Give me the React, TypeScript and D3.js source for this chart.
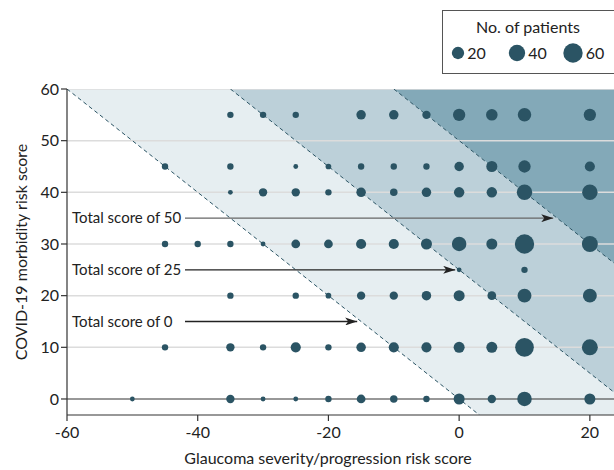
import React from "react";
import * as d3 from "d3";

// Risk score grid: glaucoma score (x), COVID-19 score (y), number of patients
const glaucomaScore = [
  -35, -30, -25, -15, -10, -5, 0, 5, 10, 20,
  -45, -35, -25, -20, -15, -10, -5, 0, 5, 10, 20,
  -35, -30, -25, -20, -15, -10, -5, 0, 5, 10, 20,
  -45, -40, -35, -30, -25, -20, -15, -10, -5, 0, 5, 10, 20,
  0, 10,
  -35, -25, -20, -15, -10, -5, 0, 5, 10, 20,
  -45, -35, -30, -25, -20, -15, -10, -5, 0, 5, 10, 20,
  -50, -35, -30, -25, -20, -15, -10, -5, 0, 5, 10, 20,
];
const covidScore = [
  55, 55, 55, 55, 55, 55, 55, 55, 55, 55,
  45, 45, 45, 45, 45, 45, 45, 45, 45, 45, 45,
  40, 40, 40, 40, 40, 40, 40, 40, 40, 40, 40,
  30, 30, 30, 30, 30, 30, 30, 30, 30, 30, 30, 30, 30,
  25, 25,
  20, 20, 20, 20, 20, 20, 20, 20, 20, 20,
  10, 10, 10, 10, 10, 10, 10, 10, 10, 10, 10, 10,
  0, 0, 0, 0, 0, 0, 0, 0, 0, 0, 0, 0,
];
const patients = [
  3, 3, 3, 10, 10, 7, 20, 17, 25, 20,
  3, 3, 1, 2, 3, 3, 3, 10, 15, 20, 12,
  1, 7, 7, 3, 10, 5, 10, 13, 13, 35, 35,
  3, 3, 3, 1, 8, 8, 12, 12, 15, 30, 15, 60, 38,
  1, 3,
  3, 3, 2, 7, 7, 10, 15, 8, 27, 27,
  3, 7, 3, 12, 3, 10, 12, 12, 15, 15, 55, 38,
  1, 7, 1, 1, 3, 8, 5, 3, 15, 7, 30, 15,
];

const xTicks = [-60, -40, -20, 0, 20];
const yTicks = [0, 10, 20, 30, 40, 50, 60];
const legendCounts = [20, 40, 60];

// Total-score thresholds (x + y) separating the shaded bands
const bandEdges = [0, 25, 50];
const bandColors = ["#e6eef1", "#bcd0d9", "#83a9b8"];

// Annotated total scores and the COVID-19 score at which each arrow sits
const annotationScores = [50, 25, 0];
const annotationY = [35, 25, 15];
const annotationLabels = ["Total score of 50", "Total score of 25", "Total score of 0"];
const annotationColors = ["#666", "#222", "#222"];

const W = 614;
const H = 470;
const FONT = "Lato, 'Noto Sans', sans-serif";
const DOT = "#2b5464";

export default function App() {
  const x = d3.scaleLinear().domain([-60, 24]).range([67, 616]);
  const y = d3.scaleLinear().domain([-3.1, 60]).range([415, 89]);
  const r = d3.scaleSqrt().domain([1, 60]).range([2.4, 9.7]);

  const [x0, x1] = x.domain();
  const [y0, y1] = y.domain();

  const band = (a: number, b: number) => {
    const pts: [number, number][] = [
      [a - y1, y1],
      [b - y1, y1],
      [b - y0, y0],
      [a - y0, y0],
    ];
    return pts.map(([px, py]) => `${x(px)},${y(py)}`).join(" ");
  };

  const points = glaucomaScore.map((gx, i) => ({
    gx,
    cy: covidScore[i],
    n: patients[i],
  }));

  return (
    <svg
      width={W}
      height={H}
      style={{ position: "absolute", left: 0, top: 0, background: "#fff" }}
      fontFamily={FONT}
    >
      <defs>
        <clipPath id="plotArea">
          <rect x={x(x0)} y={y(y1)} width={W - x(x0)} height={y(y0) - y(y1)} />
        </clipPath>
        <marker
          id="arrowHead"
          viewBox="0 0 12 8"
          refX="12"
          refY="4"
          markerWidth="12"
          markerHeight="8"
          markerUnits="userSpaceOnUse"
          orient="auto"
        >
          <path d="M0,0 L12,4 L0,8 L3,4 Z" fill="#222" />
        </marker>
      </defs>

      <g clipPath="url(#plotArea)">
        {bandEdges.map((edge, i) => (
          <polygon
            key={edge}
            points={band(edge, i + 1 < bandEdges.length ? bandEdges[i + 1] : 300)}
            fill={bandColors[i]}
          />
        ))}
        {yTicks
          .filter((t) => t !== 0)
          .map((t) => (
            <line key={t} x1={x(x0)} x2={W} y1={y(t)} y2={y(t)} stroke="#dcdcdc" strokeWidth={1.5} />
          ))}
        <line x1={x(x0)} x2={W} y1={y(0)} y2={y(0)} stroke="#333" strokeWidth={1.2} />
        {bandEdges.map((edge) => (
          <line
            key={edge}
            x1={x(edge - y1)}
            y1={y(y1)}
            x2={x(edge - y0)}
            y2={y(y0)}
            stroke={DOT}
            strokeWidth={1}
            strokeDasharray="4 3"
          />
        ))}
      </g>

      {annotationScores.map((s, i) => {
        const ay = y(annotationY[i]);
        return (
          <g key={s}>
            <text x={72} y={ay} dy="0.35em" fontSize={15} fill="#222">
              {annotationLabels[i]}
            </text>
            <line
              x1={185}
              x2={x(s - annotationY[i] - 0.6)}
              y1={ay}
              y2={ay}
              stroke={annotationColors[i]}
              strokeWidth={1.3}
              markerEnd="url(#arrowHead)"
            />
          </g>
        );
      })}

      {points.map((p, i) => (
        <circle key={i} cx={x(p.gx)} cy={y(p.cy)} r={r(p.n)} fill={DOT} />
      ))}

      {/* axes */}
      <line x1={x(x0)} x2={x(x0)} y1={y(y1)} y2={y(y0)} stroke="#333" strokeWidth={1.2} />
      <line x1={x(x0)} x2={W} y1={y(y0)} y2={y(y0)} stroke="#333" strokeWidth={1.2} />
      {yTicks.map((t) => (
        <g key={t}>
          <line x1={x(x0) - 6} x2={x(x0)} y1={y(t)} y2={y(t)} stroke="#333" strokeWidth={1.2} />
          <text x={x(x0) - 8} y={y(t)} dy="0.35em" textAnchor="end" fontSize={16} fill="#222">
            {t}
          </text>
        </g>
      ))}
      {xTicks.map((t) => (
        <g key={t}>
          <line x1={x(t)} x2={x(t)} y1={y(y0)} y2={y(y0) + 6} stroke="#333" strokeWidth={1.2} />
          <text x={x(t)} y={y(y0) + 23} textAnchor="middle" fontSize={16} fill="#222">
            {t}
          </text>
        </g>
      ))}
      <text x={328} y={464} textAnchor="middle" fontSize={16} fill="#222">
        Glaucoma severity/progression risk score
      </text>
      <text
        transform={`translate(27, ${252}) rotate(-90)`}
        textAnchor="middle"
        fontSize={16}
        fill="#222"
      >
        COVID-19 morbidity risk score
      </text>

      {/* size legend */}
      <rect x={442.5} y={10.5} width={180} height={63} fill="#fff" stroke="#555" strokeWidth={1} />
      <text x={528} y={33} textAnchor="middle" fontSize={16} fill="#222">
        No. of patients
      </text>
      {legendCounts.map((c, i) => {
        const cx = [458, 517, 573][i];
        return (
          <g key={c}>
            <circle cx={cx} cy={53} r={r(c)} fill={DOT} />
            <text x={cx + r(c) + 3} y={53} dy="0.35em" fontSize={16} fill="#222">
              {c}
            </text>
          </g>
        );
      })}
    </svg>
  );
}
